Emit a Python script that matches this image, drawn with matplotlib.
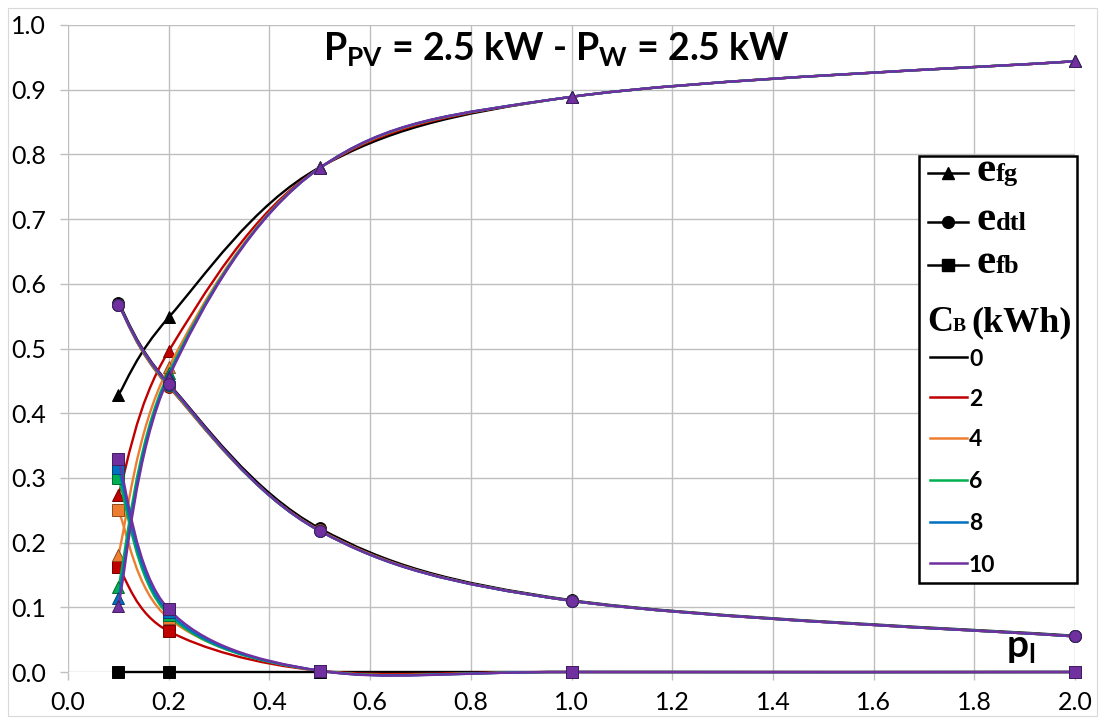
import numpy as np
import matplotlib
matplotlib.use('Agg')
import matplotlib.pyplot as plt
from matplotlib.path import Path
from matplotlib.patches import PathPatch, Rectangle
from matplotlib.lines import Line2D
import matplotlib.colors as mcolors

plt.rcParams['font.family'] = ['Lato', 'DejaVu Sans']
plt.rcParams['mathtext.fontset'] = 'custom'
plt.rcParams['mathtext.rm'] = 'Lato'
plt.rcParams['mathtext.bf'] = 'Lato:bold'
plt.rcParams['mathtext.it'] = 'Lato:italic'

# ---------------- data ----------------
p_l = [0.1, 0.2, 0.5, 1.0, 2.0]
capacities = ['0', '2', '4', '6', '8', '10']
colors = ['#000000', '#C00000', '#ED7D31', '#00B050', '#0070C0', '#7030A0']

e_fg = {
    '0':  [0.428, 0.548, 0.780, 0.889, 0.944],
    '2':  [0.274, 0.496, 0.779, 0.889, 0.944],
    '4':  [0.181, 0.471, 0.779, 0.889, 0.944],
    '6':  [0.131, 0.462, 0.779, 0.889, 0.944],
    '8':  [0.114, 0.458, 0.779, 0.889, 0.944],
    '10': [0.102, 0.455, 0.779, 0.889, 0.944],
}
e_dtl = {
    '0':  [0.571, 0.446, 0.222, 0.111, 0.056],
    '2':  [0.568, 0.441, 0.219, 0.110, 0.055],
    '4':  [0.568, 0.442, 0.219, 0.110, 0.055],
    '6':  [0.568, 0.443, 0.218, 0.110, 0.055],
    '8':  [0.568, 0.444, 0.218, 0.110, 0.055],
    '10': [0.568, 0.445, 0.218, 0.110, 0.055],
}
e_fb = {
    '0':  [0.000, 0.000, 0.000, 0.000, 0.000],
    '2':  [0.162, 0.063, 0.002, 0.000, 0.000],
    '4':  [0.250, 0.083, 0.002, 0.000, 0.000],
    '6':  [0.300, 0.088, 0.002, 0.000, 0.000],
    '8':  [0.315, 0.092, 0.002, 0.000, 0.000],
    '10': [0.329, 0.097, 0.002, 0.000, 0.000],
}

x_ticks = [0.0, 0.2, 0.4, 0.6, 0.8, 1.0, 1.2, 1.4, 1.6, 1.8, 2.0]
y_ticks = [0.0, 0.1, 0.2, 0.3, 0.4, 0.5, 0.6, 0.7, 0.8, 0.9, 1.0]

W, H = 1105, 724
fig = plt.figure(figsize=(W / 100, H / 100), dpi=100)
ax = fig.add_axes([68 / W, 52 / H, 1007 / W, 647 / H])

# outer chart border
fig.patches.append(Rectangle((8 / W, 8 / H), (W - 16) / W, (H - 16) / H,
                             transform=fig.transFigure, fill=False,
                             edgecolor='#d9d9d9', lw=0.8))


def smooth_path(x, y, t=1.0 / 6.0):
    pts = np.column_stack([x, y]).astype(float)
    n = len(pts)
    verts = [pts[0]]
    codes = [Path.MOVETO]
    for i in range(n - 1):
        p0 = pts[max(i - 1, 0)]
        p1 = pts[i]
        p2 = pts[i + 1]
        p3 = pts[min(i + 2, n - 1)]
        c1 = p1 + (p2 - p0) * t
        c2 = p2 - (p3 - p1) * t
        verts += [c1, c2, p2]
        codes += [Path.CURVE4] * 3
    return Path(verts, codes)


def darker(c, f=0.6):
    r, g, b = mcolors.to_rgb(c)
    return (r * f, g * f, b * f)


for k, (cap, col) in enumerate(zip(capacities, colors)):
    z = 3 + k * 0.1
    for series, mk, ms in [(e_fg, '^', 8), (e_dtl, 'o', 8.5), (e_fb, 's', 8)]:
        ys = series[cap]
        ax.add_patch(PathPatch(smooth_path(p_l, ys), fill=False,
                               edgecolor=col, lw=1.7, zorder=z,
                               capstyle='round', clip_on=False))
        ax.plot(p_l, ys, ls='none', marker=mk, ms=ms, color=col,
                markeredgecolor=darker(col), markeredgewidth=0.7,
                zorder=z + 0.05, clip_on=False)

ax.set_xlim(0, 2.0)
ax.set_ylim(0, 1.0)
ax.set_xticks(x_ticks)
ax.set_yticks(y_ticks)
ax.set_xticklabels([f'{v:.1f}' for v in x_ticks])
ax.set_yticklabels([f'{v:.1f}' for v in y_ticks])
ax.grid(True, color='#bfbfbf', lw=1.0)
ax.set_axisbelow(True)
for s in ax.spines.values():
    s.set_visible(False)
ax.tick_params(axis='both', length=6, width=1.0, color='#bfbfbf',
               labelsize=18, labelcolor='#000000')
ax.tick_params(axis='x', pad=8)
ax.tick_params(axis='y', pad=10)

# title
fig.text(556 / W, (H - 60) / H,
         r'$\mathbf{P_{PV}}$ = 2.5 kW - $\mathbf{P_{W}}$ = 2.5 kW',
         ha='center', va='baseline', fontsize=27, fontweight='bold')

# axis label p_l
fig.text(1006 / W, (H - 657) / H, r'$\mathbf{p_{l}}$', ha='left',
         va='baseline', fontsize=28)

# ---------------- legend (manual) ----------------
def ax_x(px):
    return (px - 68) / 1007


def ax_y(py):
    return (672 - py) / 647


T = ax.transAxes
ax.add_patch(Rectangle((ax_x(919), ax_y(583)), ax_x(1077) - ax_x(919),
                       ax_y(156) - ax_y(583), transform=T, facecolor='white',
                       edgecolor='black', lw=1.8, clip_on=False, zorder=20))

serif = ['Liberation Serif', 'DejaVu Serif']
for py, mk, sub in [(173, '^', 'fg'), (222, 'o', 'dtl'), (265, 's', 'fb')]:
    ax.add_line(Line2D([ax_x(928), ax_x(968)], [ax_y(py), ax_y(py)],
                       transform=T, color='black', lw=1.8, clip_on=False,
                       zorder=21))
    ax.add_line(Line2D([ax_x(948)], [ax_y(py)], transform=T, color='black',
                       marker=mk, ms=8.5, ls='none', clip_on=False, zorder=22))
    te = ax.text(ax_x(977), ax_y(py + 8), 'e', transform=T, ha='left',
                 va='baseline', fontsize=31, fontweight='bold', family=serif,
                 zorder=22)
    ax.annotate(sub, xy=(1, ax_y(py + 8)), xycoords=(te, T), ha='left',
                va='baseline', fontsize=19, fontweight='bold', family=serif,
                zorder=22, annotation_clip=False)

tc = ax.text(ax_x(927), ax_y(331), 'C', transform=T, ha='left',
             va='baseline', fontsize=26, fontweight='bold', family=serif,
             zorder=22)
tb = ax.annotate('B', xy=(1, ax_y(331)), xycoords=(tc, T), ha='left',
                 va='baseline', fontsize=14, fontweight='bold',
                 family=serif, zorder=22, annotation_clip=False)
ax.annotate('(kWh)', xy=(1, ax_y(331)), xycoords=(tb, T), ha='left',
            va='baseline', fontsize=26, fontweight='bold', family=serif,
            zorder=22, annotation_clip=False,
            xytext=(4, 0), textcoords='offset points')

leg_y = [357, 397, 438, 480, 522, 563]
for cap, col, py in zip(capacities, colors, leg_y):
    ax.add_line(Line2D([ax_x(930), ax_x(967)], [ax_y(py), ax_y(py)],
                       transform=T, color=col, lw=1.8, clip_on=False,
                       zorder=21))
    ax.text(ax_x(969), ax_y(py), cap, transform=T, ha='left',
            va='center_baseline', fontsize=16.5, fontweight='bold', zorder=22)

fig.savefig('out.png', dpi=100)
